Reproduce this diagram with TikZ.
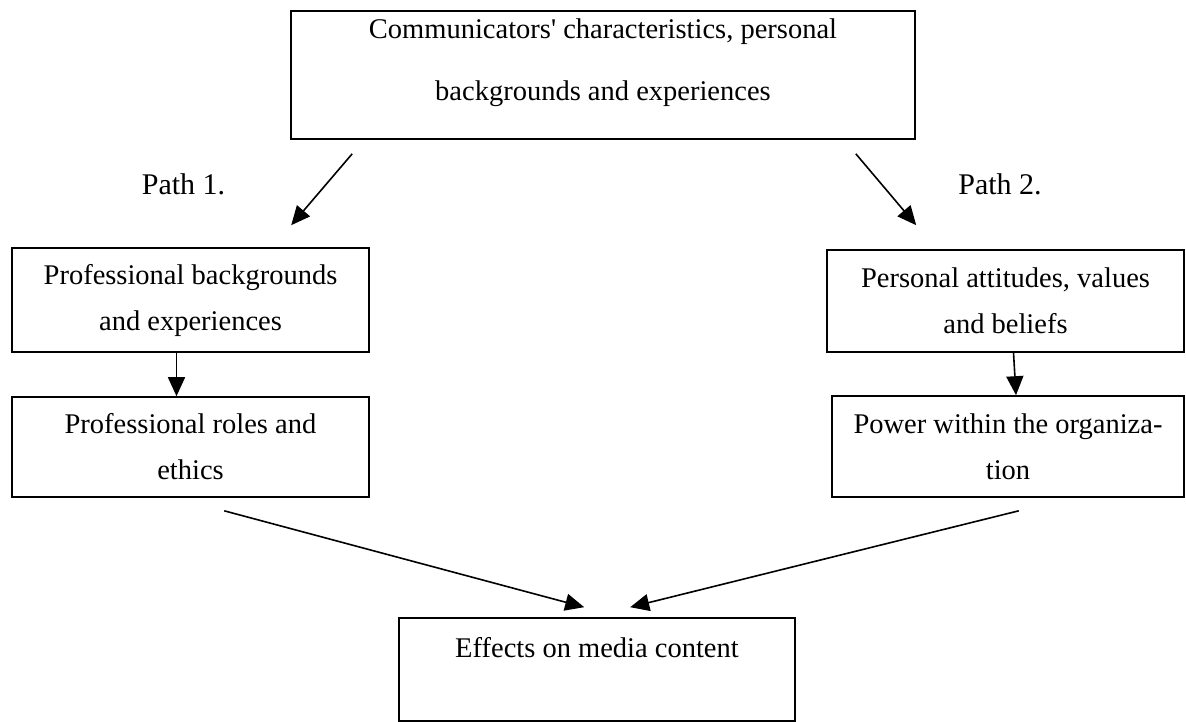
\documentclass[tikz,border=0pt]{standalone}
\usepackage{fontspec}
\setmainfont{Liberation Serif}
\usetikzlibrary{arrows.meta}

\begin{document}
\begin{tikzpicture}[x=1pt,y=-1pt,>={Triangle[length=19pt,width=17pt]},line width=1.6pt,
  box/.style={draw,rectangle,inner sep=0pt,align=center,font=\fontsize{28.5}{46}\selectfont},
  pathlabel/.style={anchor=base,font=\fontsize{30}{36}\selectfont}]
\useasboundingbox (0,0) rectangle (1186,722);
%%
\node (node_0) at (603,75) [box,minimum width=624pt,minimum height=128pt,font=\fontsize{28.5}{62}\selectfont] {Communicators\textquotesingle{} characteristics, personal\\backgrounds and experiences\rule[-31.5pt]{0pt}{0pt}};
  \node (node_1) at (190.5,300) [box,minimum width=357pt,minimum height=104pt] {Professional backgrounds\\and experiences};
  \node (node_3) at (190.5,447) [box,minimum width=357pt,minimum height=100pt] {Professional roles and\\ethics};
  \node (node_2) at (1005.5,301) [box,minimum width=357pt,minimum height=102pt] {Personal attitudes, values\\and beliefs};
  \node (node_4) at (1008,446.5) [box,minimum width=352pt,minimum height=101pt] {Power within the organiza-\\tion};
  \node (node_5) at (597,669.5) [box,minimum width=396pt,minimum height=103pt] {Effects on media content\rule[-44.5pt]{0pt}{0pt}};
  \node (path_1) at (183.5,195) [pathlabel] {Path 1.};
  \node (path_2) at (1000,195) [pathlabel] {Path 2.};
  \draw [black,->] ([shift={(62,14)}]node_0.south west) -- ([shift={(280,-22)}]node_1.north west);
  \draw [black,->] ([shift={(-60,14)}]node_0.south east) -- ([shift={(90,-24)}]node_2.north west);
  \draw [black,->] ([xshift=-14pt]node_1.south) -- ([xshift=-14pt]node_3.north);
  \draw [black,->] ([xshift=8pt]node_2.south) -- ([xshift=8pt]node_4.north);
  \draw [black,->] ([shift={(213,13)}]node_3.south west) -- ([shift={(186,-10)}]node_5.north west);
  \draw [black,->] ([shift={(-166,13)}]node_4.south east) -- ([shift={(232,-10)}]node_5.north west);
%
\end{tikzpicture}
\end{document}
